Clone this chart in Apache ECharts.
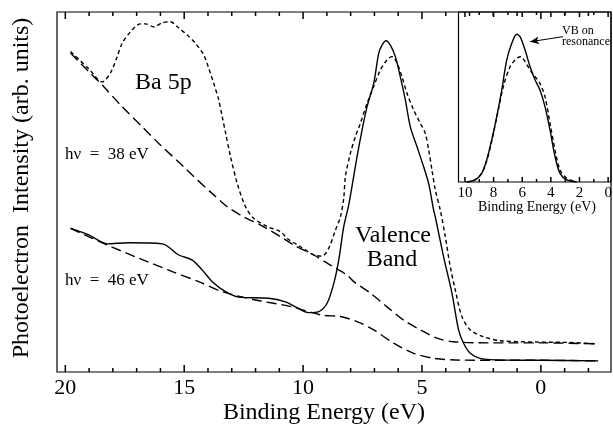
<!DOCTYPE html>
<html>
<head>
<meta charset="utf-8">
<script src="https://cdn.jsdelivr.net/npm/echarts@6/dist/echarts.min.js"></script>
<style>
  html, body { margin: 0; padding: 0; background: #fff; }
  #main { width: 613px; height: 426px; }
</style>
</head>
<body>
<div id="main"></div>
<script type="text/javascript">
// binding energy (eV), intensity (arb. units, 0-100)
var dotted38 = [[19.78,89.0],[19.01,84.2],[18.45,80.6],[18.10,83.1],[17.82,87.6],[17.61,91.3],[17.26,94.5],
  [16.84,96.7],[16.63,96.7],[16.28,95.9],[15.92,97.0],[15.58,97.3],[15.29,95.9],[14.87,93.6],[14.53,91.3],
  [14.18,88.1],[13.97,84.4],[13.76,80.2],[13.55,75.6],[13.40,70.9],[13.26,66.4],[13.05,59.8],[12.77,52.4],
  [12.42,45.9],[12.08,42.7],[11.51,40.4],[10.95,39.0],[10.67,37.1],[10.11,34.8],[9.55,32.5],[9.20,32.2],
  [8.92,34.4],[8.64,39.4],[8.43,43.1],[8.29,48.3],[8.22,54.3],[8.01,60.8],[7.80,65.4],[7.59,69.1],
  [7.31,74.6],[7.03,79.3],[6.75,83.9],[6.47,86.7],[6.26,87.6],[6.05,85.8],[5.84,82.0],[5.63,77.4],
  [5.35,72.8],[5.07,69.1],[4.86,66.3],[4.72,61.7],[4.58,56.1],[4.44,50.6],[4.23,45.0],[4.02,37.6],
  [3.81,29.3],[3.60,22.8],[3.32,15.4],[2.97,11.7],[2.41,9.8],[1.71,8.7],[0.03,8.3],[-1.23,8.2],[-2.41,7.8]];

var bg38 = [[19.78,88.6],[19.01,83.4],[18.45,79.7],[17.61,73.7],[16.76,68.1],[16.07,63.5],[15.02,57.0],
  [14.60,54.3],[13.76,49.2],[13.19,45.9],[12.50,43.1],[11.79,40.8],[10.95,37.6],[10.40,35.3],[9.55,32.5],
  [8.85,29.7],[8.15,26.9],[7.87,25.1],[7.17,21.9],[6.47,18.1],[5.77,14.4],[5.07,11.7],[4.37,9.4],
  [3.67,8.4],[2.27,8.1],[0.03,8.1],[-2.41,7.8]];

var solid46 = [[19.78,39.9],[19.01,38.1],[18.24,35.6],[17.33,35.9],[15.92,35.6],[15.23,32.5],[14.66,31.1],
  [14.24,28.3],[13.82,25.1],[13.26,22.3],[12.71,20.8],[11.45,20.5],[10.74,19.5],[10.32,18.1],[9.76,16.5],
  [9.34,16.8],[8.99,19.1],[8.71,24.6],[8.50,31.1],[8.29,40.4],[8.08,46.4],[7.73,59.8],[7.52,67.2],
  [7.31,73.7],[7.03,80.2],[6.82,88.5],[6.68,90.8],[6.51,92.0],[6.33,90.8],[6.12,87.6],[5.91,82.0],
  [5.70,75.6],[5.49,68.1],[5.21,62.6],[4.93,57.0],[4.72,52.4],[4.51,45.0],[4.44,43.1],[4.09,32.0],
  [3.74,21.9],[3.46,11.7],[3.25,8.0],[2.97,5.2],[2.55,3.8],[1.57,3.3],[0.03,3.25],[-2.41,3.1]];

var bg46 = [[19.78,39.9],[18.24,35.3],[16.91,31.6],[15.50,27.9],[14.39,25.1],[13.40,22.3],[12.00,20.0],
  [10.60,18.3],[9.20,15.8],[8.43,15.4],[7.73,14.0],[7.03,11.7],[6.19,8.0],[5.35,5.2],[4.51,3.8],
  [3.39,3.3],[0.03,3.25],[-2.41,3.1]];

// inset: valence band
var insetSolid = [[9.88,0],[9.30,1.2],[8.83,5.1],[8.48,12.9],[8.13,24.7],[7.78,38.4],[7.43,54.1],
  [7.08,71.8],[6.73,81.6],[6.38,86.9],[6.15,85.5],[5.80,77.6],[5.45,67.8],[5.10,60.0],[4.76,54.1],
  [4.41,44.3],[4.06,30.6],[3.71,14.9],[3.36,5.1],[2.89,1.2],[2.19,0]];
var insetDash = [[9.88,0],[9.30,1.2],[8.83,5.1],[8.48,12.5],[8.13,24.0],[7.67,42.4],[7.32,56.1],
  [6.85,67.8],[6.38,72.8],[6.10,73.7],[5.80,70.8],[5.45,65.9],[5.10,61.9],[4.76,58.0],[4.41,50.2],
  [4.06,34.5],[3.71,18.8],[3.36,7.1],[2.89,2.2],[2.19,0]];

// tick values
var mainMajor = [0, 5, 10, 15, 20];
var mainMinor = [-2, -1, 1, 2, 3, 4, 6, 7, 8, 9, 11, 12, 13, 14, 16, 17, 18, 19];
var insetMajor = [0, 2, 4, 6, 8, 10];
var insetMinor = [1, 3, 5, 7, 9];

var FONT = "'Liberation Serif', 'DejaVu Serif', serif";

// tick marks as small rect symbols sitting on the frame (bottom y=0, top y=100)
function tickSeries(vals, xi, yi, len, atTop) {
  return {
    type: 'scatter', xAxisIndex: xi, yAxisIndex: yi, silent: true, clip: false, z: 4,
    data: vals.map(function (v) { return [v, atTop ? 100 : 0]; }),
    symbol: 'rect', symbolSize: [1.5, len], symbolOffset: [0, atTop ? len / 2 : -len / 2],
    itemStyle: { color: '#000', opacity: 1 }
  };
}

function xax(grid, ticks, min, max, fs) {
  return {
    type: 'value', gridIndex: grid, position: 'bottom', inverse: true, min: min, max: max,
    axisLine: { show: false }, splitLine: { show: false }, axisTick: { show: false },
    axisLabel: { show: true, customValues: ticks, color: '#000', fontFamily: FONT, fontSize: fs,
      margin: grid === 0 ? 5 : 4 }
  };
}

function yax(grid) {
  return {
    type: 'value', gridIndex: grid, min: 0, max: 100,
    axisLine: { show: false }, axisTick: { show: false }, axisLabel: { show: false }, splitLine: { show: false }
  };
}

var myChart = echarts.init(document.getElementById('main'), null, { renderer: 'canvas' });

var option = {
  animation: false,
  backgroundColor: '#fff',
  grid: [
    { left: 57, right: 2, top: 12, bottom: 54, show: true, borderColor: '#000', borderWidth: 1.2,
      outerBoundsMode: 'none' },
    { left: 458.5, right: 2, top: 12, bottom: 244, show: true, borderColor: '#000', borderWidth: 1.2,
      outerBoundsMode: 'none' }
  ],
  xAxis: [
    xax(0, mainMajor, -2.95, 20.35, 22),
    xax(1, insetMajor, -0.2, 10.45, 15)
  ],
  yAxis: [yax(0), yax(1)],
  series: [
    { name: '38 eV', type: 'line', data: dotted38, xAxisIndex: 0, yAxisIndex: 0, symbol: 'none', smooth: 0.3,
      lineStyle: { color: '#000', width: 1.4, type: [4, 3] } },
    { name: '38 eV bg', type: 'line', data: bg38, xAxisIndex: 0, yAxisIndex: 0, symbol: 'none', smooth: 0.3,
      lineStyle: { color: '#000', width: 1.4, type: [10, 5] } },
    { name: '46 eV', type: 'line', data: solid46, xAxisIndex: 0, yAxisIndex: 0, symbol: 'none', smooth: 0.3,
      lineStyle: { color: '#000', width: 1.4 } },
    { name: '46 eV bg', type: 'line', data: bg46, xAxisIndex: 0, yAxisIndex: 0, symbol: 'none', smooth: 0.3,
      lineStyle: { color: '#000', width: 1.4, type: [10, 5] } },
    { name: 'inset on', type: 'line', data: insetSolid, xAxisIndex: 1, yAxisIndex: 1, symbol: 'none', smooth: 0.3,
      lineStyle: { color: '#000', width: 1.4 },
      markLine: {
        silent: true, symbol: ['none', 'arrow'], symbolSize: [6, 9],
        label: { show: false },
        lineStyle: { color: '#000', width: 1, type: 'solid' },
        data: [[{ coord: [3.15, 85.5] }, { coord: [5.45, 82.5] }]]
      } },
    { name: 'inset off', type: 'line', data: insetDash, xAxisIndex: 1, yAxisIndex: 1, symbol: 'none', smooth: 0.3,
      lineStyle: { color: '#000', width: 1.4, type: [4, 3] } },
    tickSeries(mainMajor, 0, 0, 7, false),
    tickSeries(mainMinor, 0, 0, 4, false),
    tickSeries(mainMajor, 0, 0, 7, true),
    tickSeries(mainMinor, 0, 0, 4, true),
    tickSeries(insetMajor, 1, 1, 5, false),
    tickSeries(insetMinor, 1, 1, 3, false),
    tickSeries(insetMajor, 1, 1, 5, true),
    tickSeries(insetMinor, 1, 1, 3, true)
  ],
  graphic: [
    { type: 'text', x: 22, y: 188, rotation: Math.PI / 2, z: 10,
      style: { text: 'Photoelectron  Intensity (arb. units)', font: '24px ' + FONT, fill: '#000',
        align: 'center', verticalAlign: 'middle' } },
    { type: 'text', x: 324, y: 413, z: 10,
      style: { text: 'Binding Energy (eV)', font: '24px ' + FONT, fill: '#000',
        align: 'center', verticalAlign: 'middle' } },
    { type: 'text', x: 135, y: 83, z: 10,
      style: { text: 'Ba 5p', font: '24px ' + FONT, fill: '#000', align: 'left', verticalAlign: 'middle' } },
    { type: 'text', x: 393, y: 236, z: 10,
      style: { text: 'Valence', font: '24px ' + FONT, fill: '#000', align: 'center', verticalAlign: 'middle' } },
    { type: 'text', x: 392, y: 260, z: 10,
      style: { text: 'Band', font: '24px ' + FONT, fill: '#000', align: 'center', verticalAlign: 'middle' } },
    { type: 'text', x: 65, y: 155, z: 10,
      style: { text: 'hν  =  38 eV', font: '17px ' + FONT, fill: '#000', align: 'left', verticalAlign: 'middle' } },
    { type: 'text', x: 65, y: 281, z: 10,
      style: { text: 'hν  =  46 eV', font: '17px ' + FONT, fill: '#000', align: 'left', verticalAlign: 'middle' } },
    { type: 'text', x: 537, y: 207, z: 10,
      style: { text: 'Binding Energy (eV)', font: '14px ' + FONT, fill: '#000', align: 'center', verticalAlign: 'middle' } },
    { type: 'text', x: 562, y: 31, z: 10,
      style: { text: 'VB on', font: '12px ' + FONT, fill: '#000', align: 'left', verticalAlign: 'middle' } },
    { type: 'text', x: 562, y: 42, z: 10,
      style: { text: 'resonance', font: '12px ' + FONT, fill: '#000', align: 'left', verticalAlign: 'middle' } }
  ]
};

myChart.setOption(option);
window.onresize = myChart.resize;
</script>
</body>
</html>
